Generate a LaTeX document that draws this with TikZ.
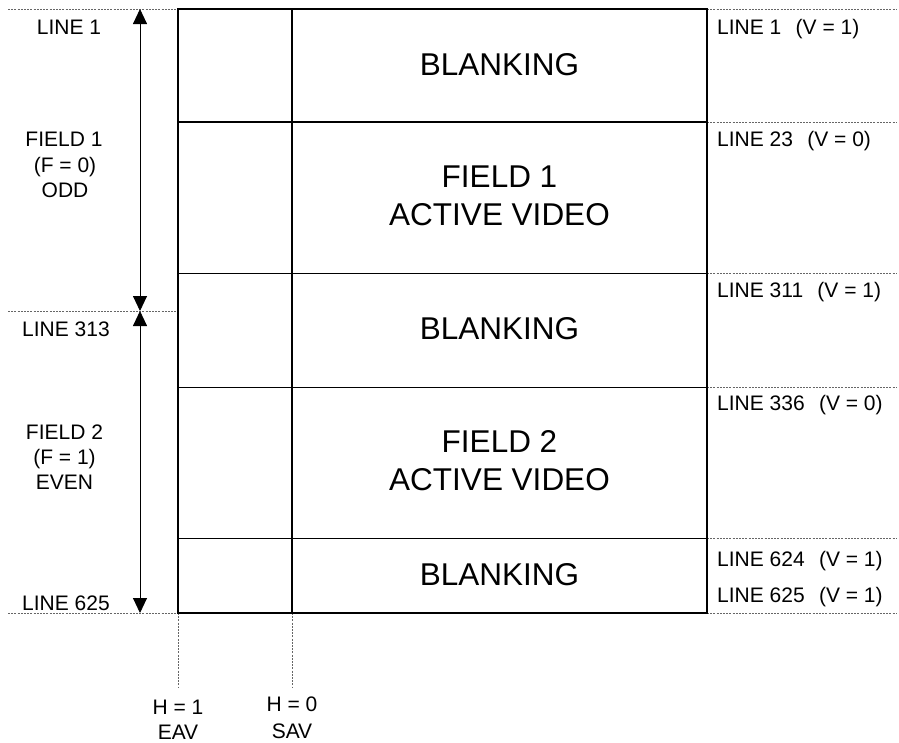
\documentclass[tikz,border=0pt]{standalone}
\usepackage{fontspec}
\setmainfont{Liberation Sans}
\usetikzlibrary{arrows.meta}
\newcommand{\vgap}{\hspace{0.68em}}
\begin{document}
\begin{tikzpicture}[x=1pt,y=-1pt,
  frame/.style={line width=1.6pt, line cap=rect},
  guide/.style={line width=0.8pt, black!60, dash pattern=on 2pt off 1.2pt},
  span/.style={line width=0.9pt, {Triangle[length=15pt,width=14pt]}-{Triangle[length=15pt,width=14pt]}},
  small/.style={font=\fontsize{21}{24}\selectfont, inner sep=0pt, anchor=base},
  side/.style={small, anchor=base west},
  big/.style={font=\fontsize{31.5}{38}\selectfont, inner sep=0pt, anchor=base},
]
\useasboundingbox (0,0) rectangle (899,742);

% grid corners: columns c0 (EAV), c1 (SAV), c2 (line end); rows r0..r5
\foreach \r/\y in {0/9,1/122,2/273.5,3/387.5,4/538.5,5/613}{
  \coordinate (L\r) at (178,\y);
  \coordinate (R\r) at (707,\y);
  \coordinate (E\r) at (897,\y);
}
\coordinate (S0) at (292,9);
\coordinate (S5) at (292,613);
\coordinate (hEAV) at (178,688);
\coordinate (hSAV) at (292,687);

% left-side field marks
\coordinate (m0) at (8,9);
\coordinate (m1) at (8,311);
\coordinate (m2) at (8,613);
\coordinate (k1) at (178,311);
\coordinate (a0) at (140,9);
\coordinate (a1) at (140,311);
\coordinate (a2) at (140,613);

% dotted reference lines
\foreach \r in {0,...,5}{ \draw[guide] (R\r) -- (E\r); }
\draw[guide] (m0) -- (L0);
\draw[guide] (m1) -- (k1);
\draw[guide] (m2) -- (L5);
\draw[guide] (L5) -- (hEAV);
\draw[guide] (S5) -- (hSAV);

% frame of one video frame
\draw[frame] (L0) rectangle (R5);
\draw[frame] (S0) -- (S5);
\foreach \r in {1,...,4}{ \draw[frame] (L\r) -- (R\r); }

% field extent arrows
\draw[span] (a0) -- (a1);
\draw[span] (a1) -- (a2);

% left labels
\node[small] (ln1)   at (69,34)    {LINE 1};
\node[small] (f1a)   at (64,146.7) {FIELD 1};
\node[small] (f1b)   at (65,172)   {(F = 0)};
\node[small] (f1c)   at (65,197.3) {ODD};
\node[small] (ln313) at (66,336.7) {LINE 313};
\node[small] (f2a)   at (64.5,439.3) {FIELD 2};
\node[small] (f2b)   at (64.5,464.5) {(F = 1)};
\node[small] (f2c)   at (64.5,489.5) {EVEN};
\node[small] (ln625) at (66,610)   {LINE 625};

% right labels
\node[side] (v1)   at (717,34)    {LINE 1\vgap(V = 1)};
\node[side] (v23)  at (717,146.7) {LINE 23\vgap(V = 0)};
\node[side] (v311) at (717,297.7) {LINE 311\vgap(V = 1)};
\node[side] (v336) at (717,410)   {LINE 336\vgap(V = 0)};
\node[side] (v624) at (717,566.7) {LINE 624\vgap(V = 1)};
\node[side] (v625) at (717,602.7) {LINE 625\vgap(V = 1)};

% region titles
\node[big] (b1)  at (499.5,75)    {BLANKING};
\node[big] (a1t) at (499.5,187.3) {FIELD 1};
\node[big] (a1v) at (499.5,225)   {ACTIVE VIDEO};
\node[big] (b2)  at (499.5,339)   {BLANKING};
\node[big] (a2t) at (499.5,452.3) {FIELD 2};
\node[big] (a2v) at (499.5,490)   {ACTIVE VIDEO};
\node[big] (b3)  at (499.5,585)   {BLANKING};

% timing reference labels
\node[small] (h1)  at (178,714) {H = 1};
\node[small] (eav) at (178,739) {EAV};
\node[small] (h0)  at (292,711) {H = 0};
\node[small] (sav) at (292,738) {SAV};
\end{tikzpicture}
\end{document}
